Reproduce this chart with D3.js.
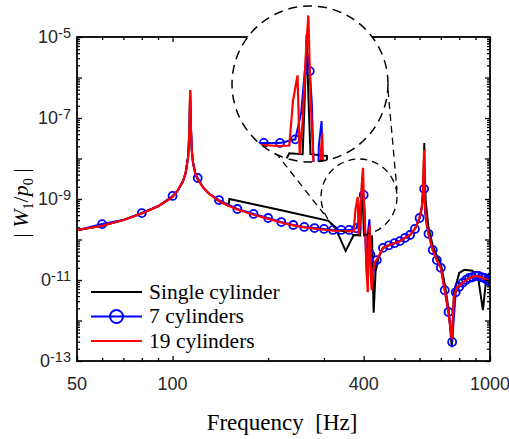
<!DOCTYPE html>
<html>
<head>
<meta charset="utf-8">
<script src="https://d3js.org/d3.v7.min.js"></script>
<style>
  body { margin: 0; background: #fff; }
  svg { display: block; }
</style>
</head>
<body>
<script>
// ---- data: [frequency Hz, |W1/p0|] ----
var single = [
  [50, 1.70e-10], [60, 2.19e-10], [70, 3.02e-10], [80, 4.37e-10], [90, 6.61e-10],
  [100, 1.12e-9], [104, 1.66e-9], [108, 2.82e-9], [110, 4.47e-9], [112, 1.12e-8],
  [113, 5.0e-8], [113.6, 4.9e-7], [114.2, 6.3e-8], [115, 1.58e-8], [116, 7.9e-9],
  [118, 4.17e-9], [120, 3.02e-9], [125, 1.9e-9], [130, 1.38e-9], [140, 8.9e-10],
  [150, 6.8e-10], [151, 1.0e-9], [220, 5.25e-10], [310, 2.88e-10], [326, 1.9e-10],
  [351, 5.25e-11], [372, 1.29e-10], [390, 1.26e-10], [393, 6.3e-10], [395.5, 3.47e-9],
  [398, 6.3e-10], [401, 1.26e-10], [425, 1.2e-10], [430, 1.55e-12], [436, 1.6e-11],
  [445, 3.4e-11], [460, 6.2e-11], [480, 7.2e-11], [500, 8.1e-11], [520, 9.1e-11],
  [540, 1.1e-10], [560, 1.29e-10], [580, 1.82e-10], [600, 3.4e-10], [610, 6.3e-10],
  [616, 2.0e-9], [619, 8e-9], [621, 2.4e-8], [623, 3.2e-9], [628, 8e-10],
  [640, 2.0e-10], [660, 7e-11], [680, 4e-11], [700, 2.5e-11], [720, 8e-12],
  [740, 2e-12], [758, 2.2e-13], [770, 5e-12], [800, 1.5e-11], [830, 1.78e-11],
  [880, 1.7e-11], [920, 1.0e-11], [950, 1.8e-12], [975, 1.26e-11], [990, 1.4e-11],
  [1000, 1.2e-11]
];

var cyl7 = [
  [50, 1.70e-10], [60, 2.4e-10], [70, 3.02e-10], [80, 4.5e-10], [90, 6.61e-10],
  [100, 1.19e-9], [104, 1.66e-9], [108, 2.82e-9], [110, 4.47e-9], [112, 1.12e-8],
  [113, 5.0e-8], [113.6, 4.0e-7], [114.2, 6.3e-8], [115, 1.58e-8], [116, 7.9e-9],
  [118, 4.17e-9], [120, 3.3e-9], [125, 1.9e-9], [130, 1.38e-9], [140, 9.4e-10],
  [160, 5.66e-10], [180, 4.27e-10], [200, 3.4e-10], [220, 2.7e-10], [240, 2.28e-10],
  [260, 2.04e-10], [280, 1.92e-10], [300, 1.82e-10], [320, 1.72e-10], [340, 1.72e-10],
  [360, 1.72e-10], [380, 1.9e-10], [388, 4.0e-10], [393, 1.26e-9], [397, 2.0e-9],
  [400, 1.26e-9], [403, 5.0e-10], [407, 3.16e-11], [410, 1.0e-11], [413, 1.58e-10],
  [417, 3.16e-10], [420, 4.2e-11], [425, 1.0e-11], [430, 1.6e-11], [440, 3.1e-11],
  [460, 6.2e-11], [480, 7.2e-11], [500, 8.1e-11], [520, 9.1e-11], [540, 1.1e-10],
  [560, 1.29e-10], [580, 1.82e-10], [600, 3.4e-10], [610, 6.3e-10], [615, 1.2e-9],
  [620, 1.78e-9], [625, 4.5e-10], [632, 2.2e-10], [640, 1.38e-10], [660, 5.5e-11],
  [680, 3.1e-11], [700, 2.0e-11], [720, 5.6e-12], [740, 1.62e-12], [760, 2.95e-13],
  [780, 5.0e-12], [800, 6.8e-12], [820, 8.5e-12], [840, 1.0e-11], [860, 1.12e-11],
  [880, 1.17e-11], [900, 1.26e-11], [920, 1.26e-11], [940, 1.17e-11], [960, 1.12e-11],
  [980, 1.0e-11], [1000, 8.9e-12]
];

var cyl19 = [
  [50, 1.70e-10], [60, 2.19e-10], [70, 3.02e-10], [80, 4.37e-10], [90, 6.61e-10],
  [100, 1.12e-9], [104, 1.66e-9], [108, 2.82e-9], [110, 4.47e-9], [112, 1.12e-8],
  [113, 5.0e-8], [113.6, 4.9e-7], [114.2, 6.3e-8], [115, 1.58e-8], [116, 7.9e-9],
  [118, 4.17e-9], [120, 3.02e-9], [125, 1.9e-9], [130, 1.38e-9], [140, 8.9e-10],
  [150, 6.8e-10], [160, 5.5e-10], [180, 4.07e-10], [200, 3.24e-10], [220, 2.63e-10],
  [240, 2.24e-10], [260, 2.0e-10], [280, 1.86e-10], [300, 1.74e-10], [320, 1.66e-10],
  [340, 1.62e-10], [360, 1.58e-10], [372, 1.6e-10], [377, 5.6e-10], [380, 7.9e-10],
  [383, 1.12e-9], [386, 1.26e-10], [390, 3.16e-10], [395, 2.5e-9], [398, 5.9e-9],
  [401, 6.3e-10], [405, 1.12e-10], [409, 1.58e-11], [412, 5.0e-12], [415, 1.0e-10],
  [418, 2.24e-10], [421, 1.58e-11], [424, 5.6e-12], [428, 1.58e-11], [433, 2.75e-11],
  [440, 3.16e-11], [460, 6.2e-11], [480, 7.2e-11], [500, 8.1e-11], [520, 9.1e-11],
  [540, 1.1e-10], [560, 1.29e-10], [580, 1.82e-10], [600, 3.4e-10], [610, 6.3e-10],
  [615, 1.6e-9], [618, 6.3e-9], [620, 1.62e-8], [622, 1.6e-9], [626, 5.0e-10],
  [632, 2.5e-10], [640, 1.38e-10], [660, 5.5e-11], [680, 3.1e-11], [700, 2.0e-11],
  [720, 5.6e-12], [740, 1.62e-12], [758, 3.5e-13], [770, 3.8e-12], [790, 6.8e-12],
  [820, 8.5e-12], [860, 1.12e-11], [900, 1.26e-11], [940, 1.17e-11], [980, 1.0e-11],
  [1000, 8.9e-12]
];

var xMajor = [50, 100, 400, 1000];
var xMinor = [60, 70, 80, 90, 200, 300, 500, 600, 700, 800, 900];
var yLabelExp = [-5, -7, -9, -11, -13];
var yLabelBase = ["10", "10", "10", "0", "0"];   // leading "1" is cut off in the figure for the last two
var legendNames = ["Single cylinder", "7 cylinders", "19 cylinders"];
var colors = ["#000000", "#0000ff", "#ff0000"];

// ---- layout ----
var width = 509, height = 439;
var plot = { left: 77, right: 490, top: 37, bottom: 361 };
var sans = "'Liberation Sans', Arial, sans-serif";
var serif = "'Liberation Serif', 'Times New Roman', serif";

var svg = d3.select("body").append("svg")
  .attr("width", width)
  .attr("height", height);
var defs = svg.append("defs");

var x = d3.scaleLog().domain([50, 1000]).range([plot.left, plot.right]);
var y = d3.scaleLog().domain([1e-13, 1e-5]).range([plot.bottom, plot.top]);

// log ticks for y: majors at each decade, minors 2..9
var yMinor = [], yMajor = [];
for (var e = -13; e < -5; e++) {
  yMajor.push(Math.pow(10, e));
  for (var m = 2; m <= 9; m++) yMinor.push(m * Math.pow(10, e));
}
yMajor.push(1e-5);

defs.append("clipPath").attr("id", "plotclip")
  .append("rect")
  .attr("x", plot.left).attr("y", plot.top)
  .attr("width", plot.right - plot.left).attr("height", plot.bottom - plot.top);

function drawSeries(g, xs, ys, markerR) {
  var line = d3.line().x(function(d) { return xs(d[0]); }).y(function(d) { return ys(d[1]); });
  g.append("path").datum(single).attr("d", line)
    .attr("fill", "none").attr("stroke", colors[0]).attr("stroke-width", 2);
  g.append("path").datum(cyl7).attr("d", line)
    .attr("fill", "none").attr("stroke", colors[1]).attr("stroke-width", 2);
  g.selectAll("circle.mk").data(cyl7.filter(function(d) { return d[0] >= 60 && d[0] % 20 === 0; }))
    .enter().append("circle").attr("class", "mk")
    .attr("cx", function(d) { return xs(d[0]); })
    .attr("cy", function(d) { return ys(d[1]); })
    .attr("r", markerR)
    .attr("fill", "none").attr("stroke", colors[1]).attr("stroke-width", 1.8);
  g.append("path").datum(cyl19).attr("d", line)
    .attr("fill", "none").attr("stroke", colors[2]).attr("stroke-width", 2.2);
}

drawSeries(svg.append("g").attr("clip-path", "url(#plotclip)"), x, y, 4);

// ---- axes (ticks inward on all four sides) ----
function tickAxis(axis, vals, size, tr) {
  var g = svg.append("g").attr("transform", tr)
    .call(axis.tickValues(vals).tickSize(size).tickFormat(""));
  g.select(".domain").remove();
  g.selectAll(".tick line").attr("stroke", "#000").attr("stroke-width", 1.3);
  return g;
}
tickAxis(d3.axisBottom(x), xMajor, -5, "translate(0," + plot.bottom + ")");
tickAxis(d3.axisBottom(x), xMinor, -3, "translate(0," + plot.bottom + ")");
tickAxis(d3.axisTop(x), xMajor, -5, "translate(0," + plot.top + ")");
tickAxis(d3.axisTop(x), xMinor, -3, "translate(0," + plot.top + ")");
tickAxis(d3.axisLeft(y), yMajor, -5, "translate(" + plot.left + ",0)");
tickAxis(d3.axisLeft(y), yMinor, -3, "translate(" + plot.left + ",0)");
tickAxis(d3.axisRight(y), yMajor, -5, "translate(" + plot.right + ",0)");
tickAxis(d3.axisRight(y), yMinor, -3, "translate(" + plot.right + ",0)");

// frame
svg.append("rect")
  .attr("x", plot.left).attr("y", plot.top)
  .attr("width", plot.right - plot.left).attr("height", plot.bottom - plot.top)
  .attr("fill", "none").attr("stroke", "#000").attr("stroke-width", 1.8);

// x tick labels
svg.append("g").selectAll("text").data(xMajor).enter().append("text")
  .attr("x", function(d) { return x(d); })
  .attr("y", 390)
  .attr("text-anchor", "middle")
  .style("font-family", sans)
  .style("font-size", "18px")
  .attr("fill", "#262626")
  .text(function(d) { return d; });

// y tick labels with superscripts
yLabelExp.forEach(function(ex, i) {
  var t = svg.append("text")
    .attr("x", 71)
    .attr("y", y(Math.pow(10, ex)) + 6)
    .attr("text-anchor", "end")
    .style("font-family", sans)
    .style("font-size", "18px")
    .attr("fill", "#262626");
  t.append("tspan").text(yLabelBase[i]);
  t.append("tspan").attr("dy", -5).style("font-size", "14.5px").text(ex);
});

// ---- magnifier lens ----
var lensSmall = { cx: 359, cy: 197, r: 38 };
var lensBig = { cx: 310, cy: 84, r: 78 };
var zoomK = 2.05, anchorMain = [355, 230], anchorLens = [292, 143];

svg.append("path")
  .attr("d", "M268,143L324,214M388,90L397,190")
  .attr("stroke", "#000").attr("stroke-width", 1.3).attr("stroke-dasharray", "7,5").attr("fill", "none");
svg.append("circle").attr("cx", lensSmall.cx).attr("cy", lensSmall.cy).attr("r", lensSmall.r)
  .attr("fill", "none").attr("stroke", "#000").attr("stroke-width", 1.3).attr("stroke-dasharray", "7,5");

defs.append("clipPath").attr("id", "lensclip")
  .append("circle").attr("cx", lensBig.cx).attr("cy", lensBig.cy).attr("r", lensBig.r);
svg.append("circle").attr("cx", lensBig.cx).attr("cy", lensBig.cy).attr("r", lensBig.r).attr("fill", "#fff");

var xi = x.copy().range([plot.left, plot.right].map(function(v) { return anchorLens[0] + zoomK * (v - anchorMain[0]); }));
var yi = y.copy().range([plot.bottom, plot.top].map(function(v) { return anchorLens[1] + zoomK * (v - anchorMain[1]); }));
drawSeries(svg.append("g").attr("clip-path", "url(#lensclip)"), xi, yi, 4);

svg.append("circle").attr("cx", lensBig.cx).attr("cy", lensBig.cy).attr("r", lensBig.r)
  .attr("fill", "none").attr("stroke", "#000").attr("stroke-width", 1.5).attr("stroke-dasharray", "9,6");

// ---- legend ----
var leg = svg.append("g");
legendNames.forEach(function(name, i) {
  var ly = 292 + i * 24.5;
  leg.append("line").attr("x1", 91).attr("x2", 142).attr("y1", ly).attr("y2", ly)
    .attr("stroke", colors[i]).attr("stroke-width", 2.2);
  if (i === 1) {
    leg.append("circle").attr("cx", 116.5).attr("cy", ly).attr("r", 6.5)
      .attr("fill", "none").attr("stroke", colors[i]).attr("stroke-width", 2);
  }
  leg.append("text").attr("x", 149).attr("y", ly + 6.5)
    .style("font-family", serif)
    .style("font-size", "21.5px")
    .text(name);
});

// ---- axis titles ----
svg.append("text")
  .attr("x", 282).attr("y", 430)
  .attr("text-anchor", "middle")
  .style("font-family", serif)
  .style("font-size", "23px")
  .style("white-space", "pre")
  .text("Frequency  [Hz]");

var yt = svg.append("text")
  .attr("transform", "translate(28,203) rotate(-90)")
  .attr("text-anchor", "middle")
  .style("font-family", serif)
  .style("font-size", "22px")
  .style("white-space", "pre");
yt.append("tspan").text("| ");
yt.append("tspan").style("font-style", "italic").text("W");
yt.append("tspan").attr("dy", 5).style("font-size", "14px").text("1");
yt.append("tspan").attr("dy", -5).text("/");
yt.append("tspan").style("font-style", "italic").text("p");
yt.append("tspan").attr("dy", 5).style("font-size", "14px").text("0");
yt.append("tspan").attr("dy", -5).text(" |");
</script>
</body>
</html>
